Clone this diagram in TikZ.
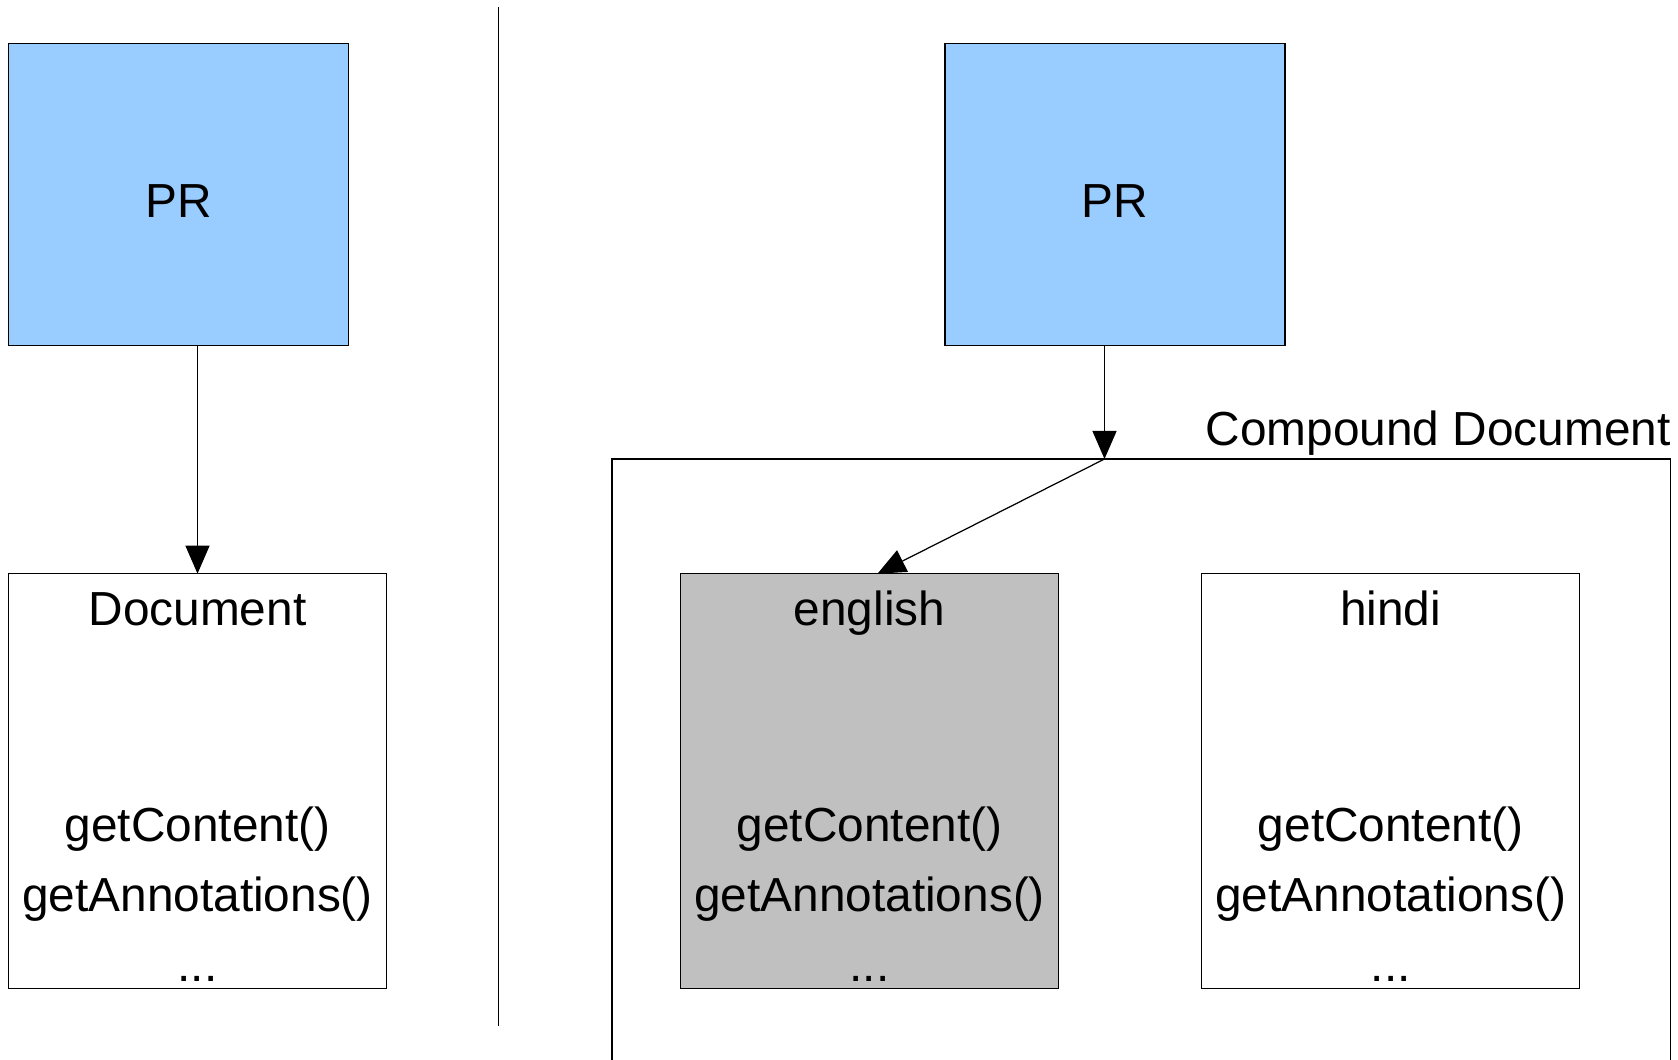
\documentclass[tikz,border=0pt]{standalone}
\usepackage{fontspec}
\setmainfont{Liberation Sans}
\usetikzlibrary{arrows.meta,positioning}
\definecolor{prblue}{RGB}{153,204,255}
\definecolor{engray}{RGB}{192,192,192}

\begin{document}
\begin{tikzpicture}[
    font=\fontsize{13.6}{19.9}\selectfont,
    every node/.style={inner sep=0pt, outer sep=0pt},
    line width=0.35pt,
    prbox/.style={draw, fill=prblue, minimum width=3.40cm, minimum height=3.02cm, text height=0.45cm},
    docbox/.style={draw, minimum width=3.78cm, minimum height=4.15cm},
    title/.style={anchor=base},
    methods/.style={anchor=south, align=center},
    link/.style={-{Triangle[length=0.28cm, width=0.24cm]}}
    ]
    \clip (0,0) rectangle (16.78,10.60);

    % left: plain document
    \node[prbox] (prL) at (1.788,8.652) {PR};
    \node[docbox] (doc) at (1.975,2.788) {};
    \node[title] (docT) at ([yshift=-0.515cm]doc.north) {Document};
    \node[methods] (docM) at ([yshift=0.07cm]doc.south) {getContent()\\getAnnotations()\\...};
    \draw[link] (doc.north |- prL.south) -- (doc.north);

    % divider
    \coordinate (divT) at (4.987,10.525);
    \coordinate (divB) at (4.987,0.34);
    \draw (divT) -- (divB);

    % right: compound document
    \node[prbox] (prR) at (11.15,8.652) {PR};
    \node[draw, anchor=north west, minimum width=10.586cm, minimum height=7cm] (cmp) at (6.12,6.01) {};
    \node[anchor=base east] (cmpT) at ([yshift=0.13cm]cmp.north east) {Compound Document};

    \node[docbox, fill=engray] (eng) at (8.695,2.788) {};
    \node[title] (engT) at ([yshift=-0.515cm]eng.north) {english};
    \node[methods] (engM) at ([yshift=0.07cm]eng.south) {getContent()\\getAnnotations()\\...};

    \node[docbox] (hin) at (13.907,2.788) {};
    \node[title] (hinT) at ([yshift=-0.515cm]hin.north) {hindi};
    \node[methods] (hinM) at ([yshift=0.07cm]hin.south) {getContent()\\getAnnotations()\\...};

    \coordinate (join) at (11.045,6.01);
    \draw[link] (join |- prR.south) -- (join);
    \draw[link] (join) -- ([xshift=0.08cm]eng.north);
\end{tikzpicture}
\end{document}
